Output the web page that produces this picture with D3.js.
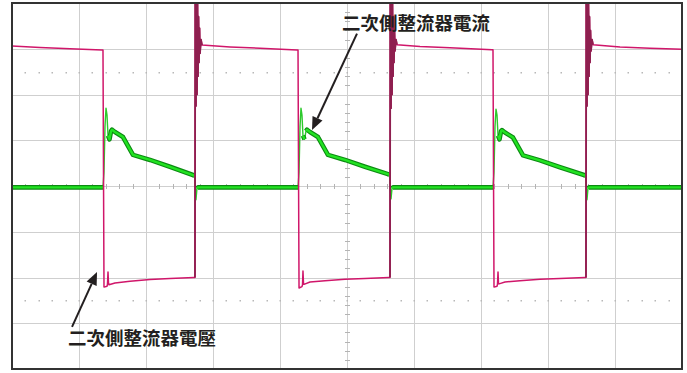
<!DOCTYPE html>
<html>
<head>
<meta charset="utf-8">
<script src="https://cdn.jsdelivr.net/npm/d3@7"></script>
<style>
  html, body { margin: 0; padding: 0; background: #fff; }
  svg { display: block; }
</style>
</head>
<body>
<svg id="chart" width="687" height="373"></svg>
<script>
// Graticule: 10 x 8 divisions, 5 minor marks per division
const xDivisions = 10;
const yDivisions = 8;
const minorPerDiv = 5;

// Secondary rectifier voltage: [time (div), level (div)]
const voltageTrace = [
  [0.000, 3.06], [0.418, 3.03], [0.866, 3.00], [1.343, 2.975],
  [1.358, 2.975], [1.373, -2.21], [1.418, -2.19], [1.425, -2.15], [1.433, -1.88],
  [1.440, -2.12], [1.448, -2.16], [1.537, -2.12], [1.761, -2.08], [2.060, -2.045],
  [2.358, -2.02], [2.716, -2.00], [2.731, -2.00],
  [2.735, 4.40], [2.739, 4.40], [2.746, 1.75], [2.754, 4.30], [2.761, 2.00],
  [2.769, 4.00], [2.776, 2.40], [2.784, 3.70], [2.791, 2.70], [2.799, 3.45],
  [2.806, 2.90], [2.821, 3.20], [2.836, 3.08],
  [3.254, 3.04], [3.701, 3.01], [4.254, 2.975],
  [4.269, 2.975], [4.284, -2.23], [4.328, -2.20], [4.336, -2.16], [4.343, -1.86],
  [4.351, -2.14], [4.358, -2.15], [4.448, -2.10], [4.672, -2.07], [4.970, -2.04],
  [5.269, -2.02], [5.627, -2.00], [5.642, -2.00],
  [5.646, 4.40], [5.649, 4.40], [5.657, 1.70], [5.664, 4.30], [5.672, 2.00],
  [5.679, 4.00], [5.687, 2.40], [5.694, 3.70], [5.701, 2.70], [5.709, 3.40],
  [5.716, 2.95], [5.731, 3.20], [5.746, 3.09],
  [6.090, 3.05], [6.537, 3.02], [7.164, 2.98],
  [7.179, 2.98], [7.194, -2.21], [7.239, -2.19], [7.246, -2.15], [7.254, -1.88],
  [7.261, -2.13], [7.269, -2.14], [7.358, -2.10], [7.582, -2.07], [7.881, -2.04],
  [8.179, -2.02], [8.552, -2.00], [8.567, -2.00],
  [8.571, 4.40], [8.575, 4.40], [8.582, 1.75], [8.590, 4.30], [8.597, 2.00],
  [8.604, 4.00], [8.612, 2.40], [8.619, 3.70], [8.627, 2.70], [8.634, 3.40],
  [8.642, 2.95], [8.657, 3.20], [8.672, 3.09],
  [9.075, 3.04], [9.522, 3.01], [10.000, 2.99]
];

// Secondary rectifier current: [time (div), level (div)]
const currentTrace = [
  [0.000, -0.03], [1.358, -0.03],
  [1.373, 0.30], [1.388, 1.30], [1.403, 1.70], [1.418, 1.55], [1.433, 1.10],
  [1.455, 1.02], [1.478, 1.20], [1.493, 1.23], [1.537, 1.18], [1.657, 1.07],
  [1.806, 0.68], [2.060, 0.57], [2.358, 0.42], [2.701, 0.24], [2.724, 0.22],
  [2.739, -0.10], [2.746, -0.30], [2.761, -0.05], [2.776, -0.03],
  [4.269, -0.03],
  [4.284, 0.30], [4.299, 1.30], [4.313, 1.70], [4.328, 1.55], [4.343, 1.10],
  [4.366, 1.02], [4.388, 1.20], [4.403, 1.23], [4.448, 1.18], [4.567, 1.07],
  [4.716, 0.68], [4.970, 0.57], [5.269, 0.42], [5.612, 0.26], [5.634, 0.24],
  [5.649, -0.10], [5.657, -0.28], [5.672, -0.05], [5.687, -0.03],
  [7.179, -0.03],
  [7.194, 0.30], [7.209, 1.30], [7.224, 1.68], [7.239, 1.55], [7.254, 1.10],
  [7.276, 1.02], [7.299, 1.20], [7.313, 1.22], [7.358, 1.17], [7.478, 1.06],
  [7.627, 0.67], [7.881, 0.56], [8.179, 0.41], [8.537, 0.24], [8.560, 0.22],
  [8.575, -0.10], [8.582, -0.30], [8.597, -0.05], [8.612, -0.03],
  [10.000, -0.03]
];

// Callout labels
const labels = ["二次側整流器電流", "二次側整流器電壓"];

const svg = d3.select("#chart");
const frame = { left: 12, top: 3, right: 682, bottom: 369 };

const x = d3.scaleLinear().domain([0, xDivisions]).range([frame.left, frame.right]);
const y = d3.scaleLinear().domain([-yDivisions / 2, yDivisions / 2]).range([frame.bottom, frame.top]);

svg.append("rect").attr("width", 687).attr("height", 373).attr("fill", "#fff");

svg.append("defs").append("clipPath").attr("id", "screen")
  .append("rect")
  .attr("x", frame.left).attr("y", frame.top)
  .attr("width", frame.right - frame.left).attr("height", frame.bottom - frame.top);

// Major grid
const grid = svg.append("g").attr("stroke", "#cfcfcf").attr("stroke-width", 1);
grid.selectAll("line.v").data(d3.range(1, xDivisions)).join("line")
  .attr("class", "v")
  .attr("x1", d => Math.round(x(d)) + 0.5).attr("x2", d => Math.round(x(d)) + 0.5)
  .attr("y1", frame.top).attr("y2", frame.bottom);
grid.selectAll("line.h").data(d3.range(-yDivisions / 2 + 1, yDivisions / 2)).join("line")
  .attr("class", "h")
  .attr("y1", d => Math.round(y(d)) + 0.5).attr("y2", d => Math.round(y(d)) + 0.5)
  .attr("x1", frame.left).attr("x2", frame.right);

// Minor marks on the centre axes
const minorX = d3.range(1, xDivisions * minorPerDiv).map(i => i / minorPerDiv)
  .filter(d => Math.abs(d - Math.round(d)) > 1e-6);
const minorY = d3.range(1, yDivisions * minorPerDiv).map(i => i / minorPerDiv - yDivisions / 2)
  .filter(d => Math.abs(d - Math.round(d)) > 1e-6);

const ticks = svg.append("g").attr("stroke", "#b4b4b4").attr("stroke-width", 1);
ticks.selectAll("line.tx").data(minorX).join("line")
  .attr("class", "tx")
  .attr("x1", d => Math.round(x(d)) + 0.5).attr("x2", d => Math.round(x(d)) + 0.5)
  .attr("y1", Math.round(y(0)) - 2).attr("y2", Math.round(y(0)) + 3);
ticks.selectAll("line.ty").data(minorY).join("line")
  .attr("class", "ty")
  .attr("y1", d => Math.round(y(d)) + 0.5).attr("y2", d => Math.round(y(d)) + 0.5)
  .attr("x1", Math.round(x(xDivisions / 2)) - 2).attr("x2", Math.round(x(xDivisions / 2)) + 3);

// Dotted rows half a division inside the outer rows
const dotRows = [yDivisions / 2 - 1.5, -yDivisions / 2 + 1.5];
const dotCols = d3.range(1, xDivisions * minorPerDiv).map(i => i / minorPerDiv);
const dots = svg.append("g").attr("fill", "#b8b8b8");
dotRows.forEach(r => {
  dots.selectAll(null).data(dotCols).join("rect")
    .attr("x", d => Math.round(x(d)) - 0.5).attr("y", Math.round(y(r)))
    .attr("width", 1.5).attr("height", 1.5);
});

const line = d3.line().x(d => x(d[0])).y(d => y(d[1]));
const traces = svg.append("g").attr("clip-path", "url(#screen)");

// Fast edges are drawn thin; runs of slowly varying segments get the wide band
const slope = (a, b) => Math.abs((b[1] - a[1]) / (b[0] - a[0]));
const slowLimit = 8;
function slowRuns(arr) {
  const runs = [];
  let run = null;
  for (let i = 0; i < arr.length - 1; i++) {
    if (slope(arr[i], arr[i + 1]) < slowLimit) {
      if (!run) { run = [arr[i]]; runs.push(run); }
      run.push(arr[i + 1]);
    } else {
      run = null;
    }
  }
  return runs;
}
const currentRuns = slowRuns(currentTrace);

// Current trace
traces.append("path").datum(currentTrace)
  .attr("d", line).attr("fill", "none")
  .attr("stroke", "#2cc92c").attr("stroke-width", 1.4)
  .attr("stroke-linejoin", "round");
traces.selectAll("path.rim").data(currentRuns).join("path")
  .attr("class", "rim")
  .attr("d", line).attr("fill", "none")
  .attr("stroke", "#0c8a12").attr("stroke-width", 4.6)
  .attr("stroke-linejoin", "round").attr("stroke-linecap", "butt");
traces.selectAll("path.core").data(currentRuns).join("path")
  .attr("class", "core")
  .attr("d", line).attr("fill", "none")
  .attr("stroke", "#22e322").attr("stroke-width", 2.4)
  .attr("stroke-linejoin", "round").attr("stroke-linecap", "butt");

// Voltage trace
traces.append("path").datum(voltageTrace)
  .attr("d", line).attr("fill", "none")
  .attr("stroke", "#d0166a").attr("stroke-width", 1.5)
  .attr("stroke-linejoin", "round");

// Ringing right after each rising edge, in the darker persistence colour
const ringWindow = 0.11;
const risingEdges = voltageTrace.filter((d, i, arr) => i > 0 && arr[i - 1][1] < 0 && d[1] > 0).map(d => d[0]);
const ringing = risingEdges.map(t0 => voltageTrace.filter(d => d[0] >= t0 - 0.005 && d[0] <= t0 + ringWindow));
traces.selectAll("path.ring").data(ringing).join("path")
  .attr("class", "ring")
  .attr("d", line).attr("fill", "none")
  .attr("stroke", "#8e1f4f").attr("stroke-width", 1.8)
  .attr("stroke-linejoin", "round");

// Frame
svg.append("rect")
  .attr("x", frame.left).attr("y", frame.top)
  .attr("width", frame.right - frame.left).attr("height", frame.bottom - frame.top)
  .attr("fill", "none").attr("stroke", "#333").attr("stroke-width", 2);

// Callouts with arrows
const notes = [
  { text: labels[0], at: [4.925, 3.41], from: [5.149, 3.33], to: [4.478, 1.224] },
  { text: labels[1], at: [0.836, -3.475], from: [0.896, -3.08], to: [1.269, -1.88] }
];

const ink = "#231f20";
const callouts = svg.append("g");
notes.forEach(n => {
  const x1 = x(n.from[0]), y1 = y(n.from[1]);
  const x2 = x(n.to[0]), y2 = y(n.to[1]);
  const ang = Math.atan2(y2 - y1, x2 - x1);
  const headLen = 13, headHalf = 5.5;
  const bx = x2 - headLen * Math.cos(ang), by = y2 - headLen * Math.sin(ang);
  callouts.append("line")
    .attr("x1", x1).attr("y1", y1).attr("x2", bx).attr("y2", by)
    .attr("stroke", ink).attr("stroke-width", 2);
  const px = -Math.sin(ang), py = Math.cos(ang);
  callouts.append("path")
    .attr("d", `M${x2},${y2}L${bx + px * headHalf},${by + py * headHalf}L${bx - px * headHalf},${by - py * headHalf}Z`)
    .attr("fill", ink);
  callouts.append("text")
    .attr("x", x(n.at[0])).attr("y", y(n.at[1]))
    .attr("font-family", "'Noto Sans CJK TC', 'Noto Sans CJK SC', sans-serif")
    .attr("font-size", 18.5).attr("font-weight", 700)
    .attr("fill", ink)
    .text(n.text);
});
</script>
</body>
</html>
